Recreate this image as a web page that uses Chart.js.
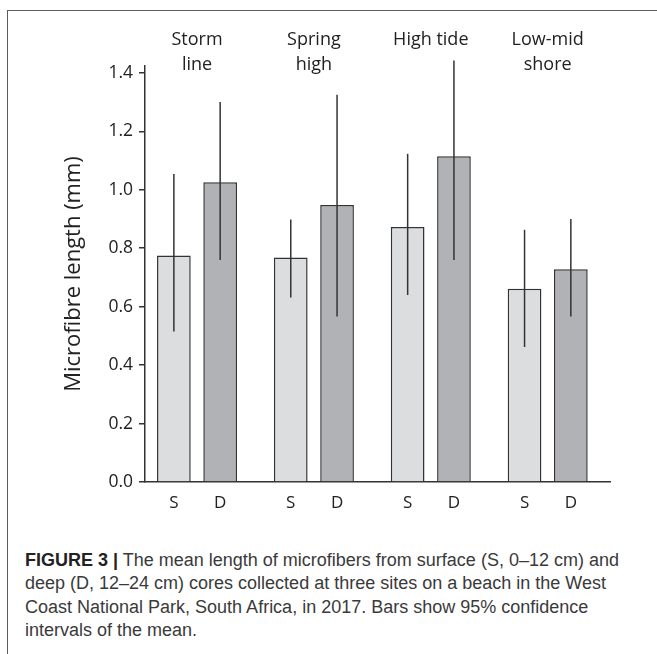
<!DOCTYPE html>
<html>
<head>
<meta charset="utf-8">
<script src="https://cdn.jsdelivr.net/npm/chart.js@4.4.1/dist/chart.umd.min.js"></script>
<style>
  body { margin: 0; background: #fff; }
  #page { position: relative; width: 657px; height: 654px; overflow: hidden; background: #fff; }
  #frame { position: absolute; left: 7px; top: 10px; width: 700px; height: 700px;
           border-top: 1.5px solid #5c5c5c; border-left: 1.5px solid #5c5c5c; }
  #chartBox { position: absolute; left: 0; top: 0; }
  #caption { position: absolute; left: 25px; top: 549px; width: 630px;
             font-family: "Liberation Sans", Arial, sans-serif; font-size: 18px;
             line-height: 23.3px; color: #3a3a3a; white-space: nowrap; }
  #caption b { color: #222; }
</style>
</head>
<body>
<div id="page">
  <div id="frame"></div>
  <div id="chartBox"><canvas id="chart" width="657" height="530"></canvas></div>
  <div id="caption">
    <b>FIGURE 3 |</b> The mean length of microfibers from surface (S, 0–12 cm) and<br>
    deep (D, 12–24 cm) cores collected at three sites on a beach in the West<br>
    Coast National Park, South Africa, in 2017. Bars show 95% confidence<br>
    intervals of the mean.
  </div>
</div>
<script>
// sites along the beach (group labels on top)
const siteLines = [['Storm', 'line'], ['Spring', 'high'], ['High tide'], ['Low-mid', 'shore']];
const sitePos = [1, 2, 3, 4];
const seriesLabels = ['S', 'D'];

// mean length (mm) and 95% CI
const surfaceMean = [0.775, 0.768, 0.873, 0.661];
const surfaceLo   = [0.515, 0.631, 0.640, 0.462];
const surfaceHi   = [1.054, 0.898, 1.123, 0.863];
const deepMean = [1.026, 0.948, 1.115, 0.728];
const deepLo   = [0.760, 0.566, 0.760, 0.566];
const deepHi   = [1.300, 1.325, 1.442, 0.900];

const yTicks = [0, 0.2, 0.4, 0.6, 0.8, 1.0, 1.2, 1.4];

const errLo = [surfaceLo, deepLo];
const errHi = [surfaceHi, deepHi];

const tickFont = { family: 'Open Sans', size: 17.5 };

const errorBars = {
  id: 'errorBars',
  afterDatasetsDraw(chart) {
    const ctx = chart.ctx, y = chart.scales.y;
    ctx.save();
    ctx.strokeStyle = '#333';
    ctx.lineWidth = 1.5;
    chart.data.datasets.forEach((ds, i) => {
      chart.getDatasetMeta(i).data.forEach((bar, j) => {
        ctx.beginPath();
        ctx.moveTo(bar.x, y.getPixelForValue(errLo[i][j]));
        ctx.lineTo(bar.x, y.getPixelForValue(errHi[i][j]));
        ctx.stroke();
      });
    });
    ctx.restore();
  }
};

// S / D under each bar
const barLabels = {
  id: 'barLabels',
  afterDraw(chart) {
    const ctx = chart.ctx;
    ctx.save();
    ctx.fillStyle = '#222';
    ctx.font = '17px "Open Sans"';
    ctx.textAlign = 'center';
    ctx.textBaseline = 'middle';
    chart.data.datasets.forEach((ds, i) => {
      chart.getDatasetMeta(i).data.forEach(bar => {
        ctx.fillText(ds.label, bar.x, chart.chartArea.bottom + 21);
      });
    });
    ctx.restore();
  }
};

const setSiteTicks = (axis) => { axis.ticks = sitePos.map(v => ({ value: v })); };

new Chart(document.getElementById('chart'), {
  type: 'bar',
  data: {
    labels: sitePos,
    datasets: [
      { label: seriesLabels[0], data: surfaceMean, backgroundColor: '#dcdddf', borderColor: '#333', borderWidth: 1.5 },
      { label: seriesLabels[1], data: deepMean, backgroundColor: '#b1b2b5', borderColor: '#333', borderWidth: 1.5 }
    ]
  },
  options: {
    responsive: false,
    animation: false,
    categoryPercentage: 0.792,
    barPercentage: 0.728,
    layout: { padding: { left: 61, right: 47, top: 0, bottom: 0 } },
    plugins: { legend: { display: false }, tooltip: { enabled: false } },
    scales: {
      x: {
        type: 'linear',
        min: 0.555, max: 4.533,
        offset: false,
        afterBuildTicks: setSiteTicks,
        afterFit: (s) => { s.height = 48; },
        grid: { display: false },
        ticks: { display: false },
        border: { display: true, color: '#333', width: 1.5 }
      },
      xTop: {
        type: 'linear',
        position: 'top',
        min: 0.555, max: 4.533,
        offset: false,
        afterBuildTicks: setSiteTicks,
        afterFit: (s) => { s.height = 66; },
        grid: { display: false, drawTicks: false },
        border: { display: false },
        ticks: {
          font: { family: 'Open Sans', size: 18, lineHeight: '25.5px' },
          color: '#222',
          mirror: true,
          padding: -64.5,
          crossAlign: 'far',
          maxRotation: 0,
          autoSkip: false,
          callback: (v, i) => siteLines[i]
        }
      },
      y: {
        min: 0, max: 1.4236,
        afterBuildTicks: (axis) => { axis.ticks = yTicks.map(v => ({ value: v })); },
        afterFit: (s) => { s.width = 84; },
        grid: { drawOnChartArea: false, drawTicks: true, tickLength: 6, color: '#333', lineWidth: 1.5 },
        border: { display: true, color: '#333', width: 1.5 },
        ticks: { font: tickFont, color: '#222', padding: 6, callback: (v) => v.toFixed(1) },
        title: {
          display: true,
          text: 'Microfibre length (mm)',
          font: { family: 'Open Sans', size: 22 },
          color: '#222',
          padding: 0
        }
      }
    }
  },
  plugins: [errorBars, barLabels]
});
</script>
</body>
</html>
